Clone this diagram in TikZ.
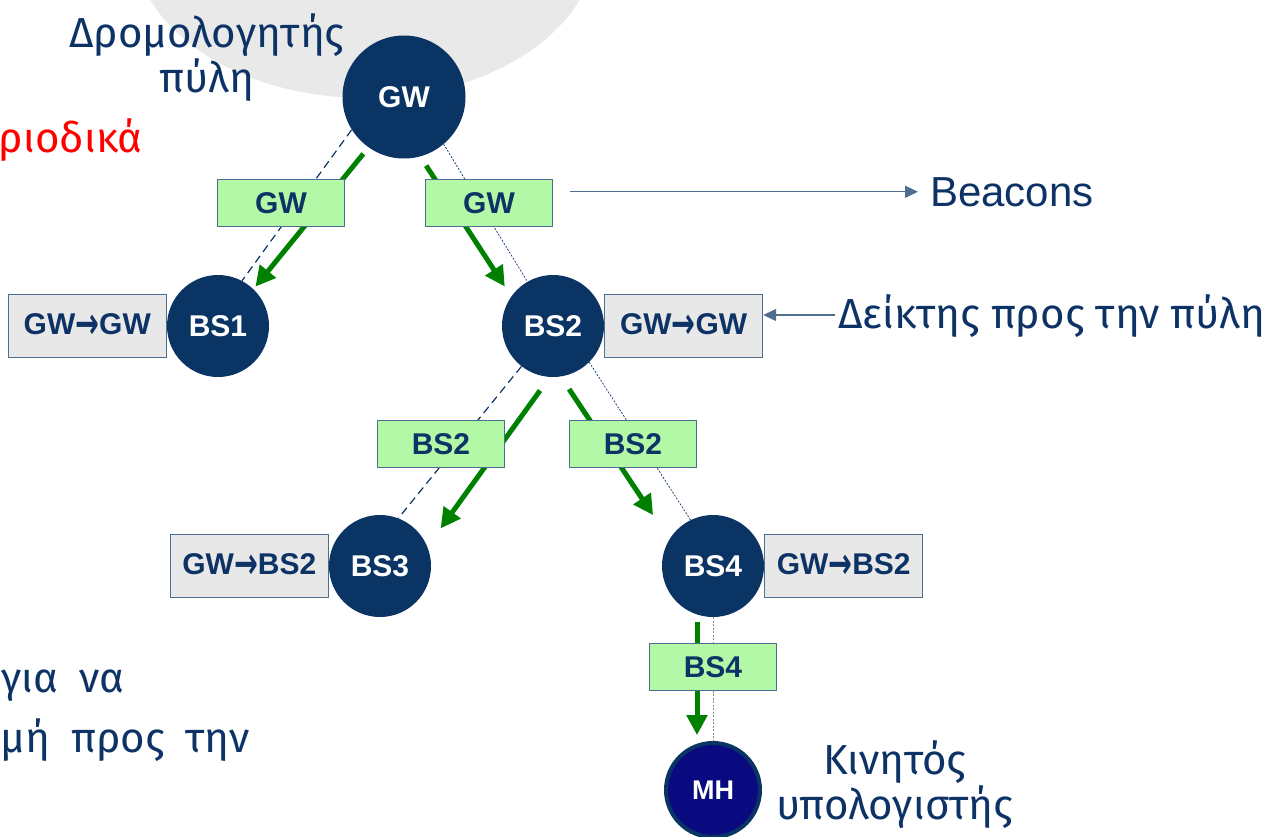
\documentclass[tikz,border=0pt]{standalone}
\usepackage{fontspec}
\setmainfont{Liberation Sans}
\newfontfamily\grfont{Fira Sans}
\newfontfamily\arrowfont{DejaVu Sans}[BoldFont={DejaVu Sans Bold}]
\usetikzlibrary{positioning,arrows.meta,calc}
\definecolor{NodeC}{HTML}{0A3464}
\definecolor{TxtC}{HTML}{0D3366}
\definecolor{FlowC}{HTML}{008000}
\definecolor{MsgC}{HTML}{B3F8A6}
\definecolor{TabC}{HTML}{E8E8E8}
\definecolor{EdgeC}{HTML}{4D6E8E}
\definecolor{CloudC}{HTML}{E9E9E9}
\definecolor{MobC}{HTML}{0A0A80}
\newcommand{\To}{{\arrowfont\raisebox{-0.16em}{\scalebox{0.95}[1.45]{→}}}}
\newcommand{\widesp}{\spaceskip=21pt\relax}

\begin{document}
\begin{tikzpicture}[x=1pt,y=-1pt,
  station/.style={circle,fill=NodeC,text=white,inner sep=0pt,minimum size=102pt,
    font=\fontsize{30}{34}\selectfont\bfseries},
  msg/.style={draw=EdgeC,fill=MsgC,line width=1pt,minimum width=127pt,minimum height=47pt,
    inner sep=0pt,text=TxtC,font=\fontsize{30}{34}\selectfont\bfseries},
  tabbox/.style={draw=EdgeC,fill=TabC,line width=1pt,minimum width=158pt,minimum height=63pt,
    inner sep=0pt,text=TxtC,font=\fontsize{30}{34}\selectfont\bfseries},
  flow/.style={draw=FlowC,line width=5pt,-{Triangle[length=20pt,width=20pt]}},
  link/.style={NodeC,line width=1.2pt,dash pattern=on 8pt off 5pt},
  fine/.style={NodeC,line width=0.7pt,dash pattern=on 2pt off 1.5pt},
  ptr/.style={draw=EdgeC,line width=1.3pt,-{Triangle[length=13pt,width=12pt]}},
  greek/.style={text=TxtC,inner sep=0pt,font=\grfont\fontsize{42}{45}\selectfont}]

\useasboundingbox (0,0) rectangle (1280,836);

% ---------- gateway area ----------
\fill[CloudC] (365,-60) ellipse [x radius=232pt,y radius=158pt];

% ---------- stations ----------
\node[station,minimum size=123pt] (gw) at (404,97) {GW};
\node[station] (bs1) at (218,326) {BS1};
\node[station] (bs2) at (553,326) {BS2};
\node[station] (bs3) at (380,566) {BS3};
\node[station] (bs4) at (713,566) {BS4};
\node[circle,fill=MobC,draw=NodeC,line width=4pt,minimum size=94pt,inner sep=0pt,text=white,
  font=\fontsize{27}{30}\selectfont\bfseries] (mh) at (713,790) {MH};

% ---------- tree links ----------
\draw[link] (gw.212) -- (bs1.62);
\draw[fine] (gw.310) -- (bs2.120);
\draw[link] (bs2.232) -- (bs3.69);
\draw[fine] (bs2.315) -- (bs4.116);
\draw[fine,draw=black!45] (bs4.south) -- (mh.north);

% ---------- beacon flow ----------
\foreach \a/\b/\s/\e/\dx/\dy in {gw/bs1/0.235/0.815/3/3, gw/bs2/0.256/0.784/-16/10,
    bs2/bs3/0.202/0.777/22/16, bs2/bs4/0.213/0.738/-18/12, bs4/mh/0.25/0.755/-16/0}
  \draw[flow] ($(\a)!\s!(\b)+(\dx,\dy)$) -- ($(\a)!\e!(\b)+(\dx,\dy)$);

\foreach \n/\x/\y/\t in {gwl/281/203/GW, gwr/489/203/GW, bsl/441/444/BS2,
    bsr/633/444/BS2, bsm/713/667/BS4}
  \node[msg] (\n) at (\x,\y) {\t};

% ---------- routing tables ----------
\node[tabbox,anchor=east] (tab1) at (bs1.west) {GW\To GW};
\node[tabbox,anchor=west] (tab2) at (bs2.east) {GW\To GW};
\node[tabbox,anchor=east] (tab3) at (bs3.west) {GW\To BS2};
\node[tabbox,anchor=west] (tab4) at (bs4.east) {GW\To BS2};

% ---------- labels ----------
\node[greek,align=center] (router) at (207,58) {Δρομολογητής\\πύλη};
\node[greek,text=red,anchor=base east] (period) at (143,152) {ριοδικά};
\node[greek,anchor=base west] (inorder) at (1,692) {\widesp για να};
\node[greek,anchor=base east] (route) at (250,752) {\widesp μή προς την};
\node[greek,align=center] (mobile) at (895,785) {Κινητός\\υπολογιστής};
\node[greek,anchor=base west] (ptrtxt) at (838,328) {Δείκτης προς την πύλη};
\node[anchor=base west,inner sep=0pt,text=TxtC,font=\fontsize{42}{46}\selectfont] (beacons)
  at (930,206) {Beacons};

\draw[ptr,shorten <=17pt,shorten >=12pt] (beacons.west -| gwr.east) -- (beacons.west);
\coordinate (ptrend) at ([yshift=11pt]tab2.east);
\draw[ptr,shorten <=3pt] (ptrend -| ptrtxt.west) -- (ptrend);
\end{tikzpicture}
\end{document}
